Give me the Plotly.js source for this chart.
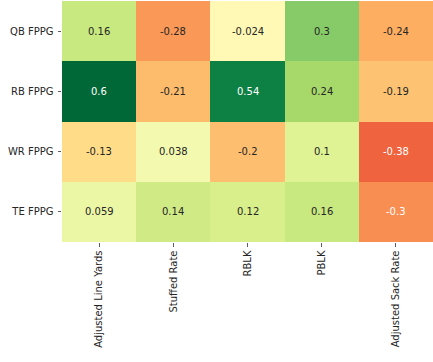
<!DOCTYPE html>
<html><head><meta charset="utf-8">
<script src="https://cdn.plot.ly/plotly-3.0.1.min.js"></script>
<style>html,body{margin:0;padding:0;background:#fff;}#chart{width:433px;height:362px;}</style>
</head><body><div id="chart"></div>
<script>
const columns = ["Adjusted Line Yards", "Stuffed Rate", "RBLK", "PBLK", "Adjusted Sack Rate"];
const rows = ["QB FPPG", "RB FPPG", "WR FPPG", "TE FPPG"];
const qbValues = [0.16, -0.28, -0.024, 0.3, -0.24];
const rbValues = [0.6, -0.21, 0.54, 0.24, -0.19];
const wrValues = [-0.13, 0.038, -0.2, 0.1, -0.38];
const teValues = [0.059, 0.14, 0.12, 0.16, -0.3];
const zValues = [qbValues, rbValues, wrValues, teValues];

const rdylgn = ["#a50026","#d73027","#f46d43","#fdae61","#fee08b","#ffffbf","#d9ef8b","#a6d96a","#66bd63","#1a9850","#006837"];
const colorscale = rdylgn.map((c, i) => [i / (rdylgn.length - 1), c]);
const zmin = -0.6, zmax = 0.6;

function hexToRgb(h){return [parseInt(h.slice(1,3),16),parseInt(h.slice(3,5),16),parseInt(h.slice(5,7),16)];}
function colorAt(v){
  let t = (v - zmin) / (zmax - zmin); t = Math.max(0, Math.min(1, t));
  const p = t * (rdylgn.length - 1); const i = Math.min(Math.floor(p), rdylgn.length - 2); const f = p - i;
  const a = hexToRgb(rdylgn[i]), b = hexToRgb(rdylgn[i+1]);
  return a.map((x, k) => x + (b[k] - x) * f);
}
function lum(rgb){
  const c = rgb.map(x => { x /= 255; return x <= 0.03928 ? x / 12.92 : Math.pow((x + 0.055) / 1.055, 2.4); });
  return 0.2126*c[0] + 0.7152*c[1] + 0.0722*c[2];
}

const annotations = [];
zValues.forEach((row, r) => row.forEach((v, c) => {
  annotations.push({x: columns[c], y: rows[r], text: String(v), showarrow: false,
    font: {family: 'DejaVu Sans', size: 10, color: lum(colorAt(v)) > 0.408 ? '#262626' : '#ffffff'}});
}));

Plotly.newPlot('chart', [{
  type: 'heatmap', x: columns, y: rows, z: zValues, zmin: zmin, zmax: zmax,
  colorscale: colorscale, showscale: false, xgap: 0, ygap: 0, hoverinfo: 'skip'
}], {
  width: 433, height: 362,
  margin: {l: 62, r: 0, t: 1, b: 120, pad: 0},
  paper_bgcolor: '#ffffff', plot_bgcolor: '#ffffff',
  font: {family: 'DejaVu Sans', size: 10, color: '#262626'},
  xaxis: {type: 'category', tickangle: -90, ticks: 'outside', ticklen: 3.5, tickwidth: 0.8, tickcolor: '#333',
          showgrid: false, zeroline: false, showline: false, tickfont: {size: 10, color: '#262626'}},
  yaxis: {type: 'category', autorange: 'reversed', ticks: 'outside', ticklen: 3.5, tickwidth: 0.8, tickcolor: '#333',
          ticklabelstandoff: 2,
          showgrid: false, zeroline: false, showline: false, tickfont: {size: 10, color: '#262626'}},
  annotations: annotations
}, {displayModeBar: false, staticPlot: true});
</script></body></html>
